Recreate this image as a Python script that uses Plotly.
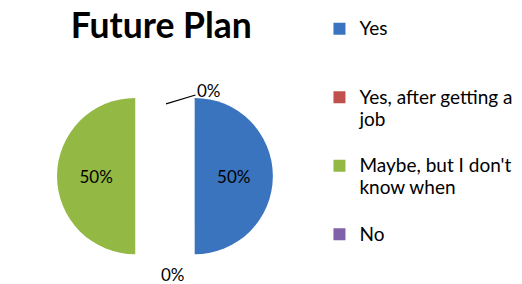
import plotly.graph_objects as go

labels = ["Yes", "Yes, after getting a<br>job", "Maybe, but I don't<br>know when", "No"]
values = [50, 0, 50, 0]
colors = ["#3A74BF", "#C0504D", "#93B844", "#7F62A8"]
title_text = "Future Plan"
zero_labels = ["0%", "0%"]

# legend entries: shown at 19px, padded to three lines so items are evenly spaced
legend_labels = []
for i, l in enumerate(labels):
    pad = 0 if i == len(labels) - 1 else 2 - l.count("<br>")
    legend_labels.append('<span style="font-size:19px">' + l + "</span>" + "<br> " * pad)

fig = go.Figure()
fig.add_trace(go.Pie(
    labels=legend_labels,
    values=values,
    sort=False,
    direction="clockwise",
    rotation=0,
    pull=[0.38, 0, 0.38, 0],
    marker=dict(colors=colors, line=dict(width=0)),
    textinfo="percent",
    texttemplate="%{percent:.0%}",
    textposition="inside",
    insidetextfont=dict(family="Lato", size=17, color="#000000"),
    insidetextorientation="horizontal",
    domain=dict(x=[0.0, 0.632], y=[0.0, 0.76]),
    hovertemplate="%{percent:.0%}<extra></extra>",
))

fig.add_annotation(
    x=0.318, y=0.634, xref="paper", yref="paper",
    text=zero_labels[0], showarrow=True, ax=43, ay=-13, arrowhead=0, arrowwidth=1.2,
    arrowcolor="#000000", font=dict(family="Lato", size=17, color="#000000"),
)
fig.add_annotation(
    x=0.305, y=0.032, xref="paper", yref="paper",
    text=zero_labels[1], showarrow=False, yanchor="middle",
    font=dict(family="Lato", size=17, color="#000000"),
)

fig.update_layout(
    width=522, height=284,
    margin=dict(l=0, r=0, t=0, b=0),
    paper_bgcolor="white",
    plot_bgcolor="white",
    title=dict(text="<b>" + title_text + "</b>", x=0.309, xanchor="center",
               y=0.955, yanchor="top",
               font=dict(family="Lato", size=35.5, color="#000000")),
    legend=dict(x=0.612, y=0.96, xanchor="left", yanchor="top",
                font=dict(family="Lato", size=16.8, color="#000000"),
                valign="top", itemwidth=30, traceorder="normal"),
    showlegend=True,
)

fig.write_html("out.html", config={"displayModeBar": False},
               post_script="document.body.style.margin='0px';")
